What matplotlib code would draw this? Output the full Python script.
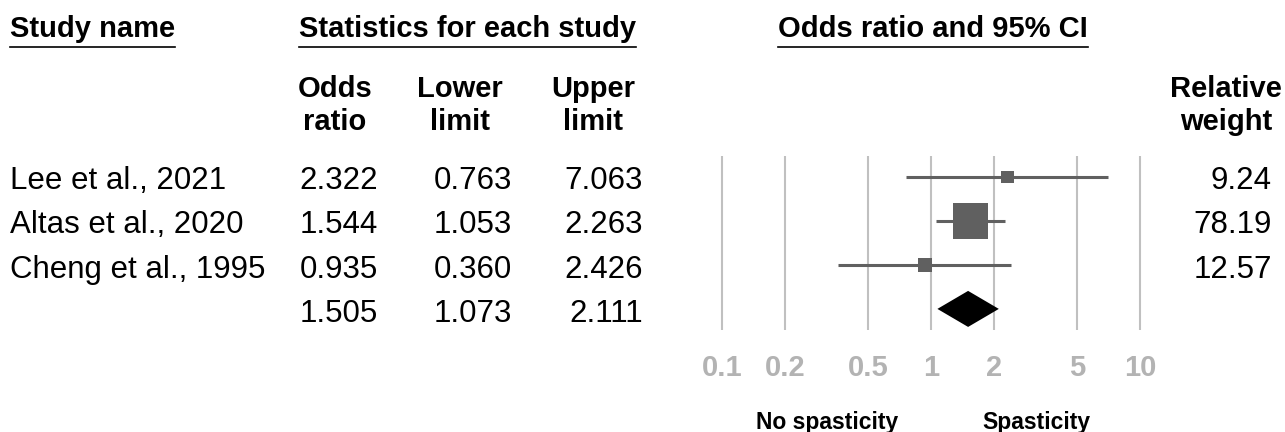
"""
Forest plot: odds ratio of spasticity
"""
import numpy as np
import matplotlib.pyplot as plt
from matplotlib.lines import Line2D

plt.rcParams['font.family'] = ['Liberation Sans', 'DejaVu Sans']

# data
studies = ['Lee et al., 2021', 'Altas et al., 2020', 'Cheng et al., 1995']
odds_ratio = [2.322, 1.544, 0.935]
lower = [0.763, 1.053, 0.360]
upper = [7.063, 2.263, 2.426]
weights = [9.24, 78.19, 12.57]

summary_or = 1.505
summary_lo = 1.073
summary_hi = 2.111

ticks = [0.1, 0.2, 0.5, 1, 2, 5, 10]
tick_labels = ['0.1', '0.2', '0.5', '1', '2', '5', '10']

W, H = 1285, 432
fig = plt.figure(figsize=(W / 100, H / 100), dpi=100)


def fx(x):
    return x / W


def fy(y):
    return 1 - y / H


BOX = '#606060'
GRID = '#c0c0c0'
TICK = '#b3b3b3'

# forest panel (pixel layout: x=1 at 931, 209 px per decade)
ax = fig.add_axes([fx(700), fy(330), 460 / W, 174 / H])
ax.set_xscale('log')
ax.set_xlim(10 ** ((700 - 931) / 209), 10 ** ((1160 - 931) / 209))
ax.set_ylim(3.48, -0.48)

for t in ticks:
    ax.axvline(t, color=GRID, lw=1.5, zorder=0)

rows = np.arange(len(studies))
ax.hlines(rows, lower, upper, color=BOX, lw=2.2, zorder=2)
ax.scatter(odds_ratio, rows, marker='s', s=8.3 * np.array(weights),
           color=BOX, linewidths=0, zorder=3)

# summary diamond
ys = len(studies)
ax.fill([summary_lo, summary_or, summary_hi, summary_or],
        [ys, ys - 0.41, ys, ys + 0.41], color='black', lw=0, zorder=3)

ax.set_xticks(ticks)
ax.set_xticklabels(tick_labels)
ax.minorticks_off()
ax.tick_params(axis='x', length=0, pad=17, labelsize=21, labelcolor=TICK)
for lbl in ax.get_xticklabels():
    lbl.set_fontweight('bold')
ax.set_yticks([])
for s in ax.spines.values():
    s.set_visible(False)
ax.patch.set_alpha(0)

# headers
titles = [
    fig.text(fx(10), fy(37), 'Study name', fontsize=21, fontweight='bold', va='baseline'),
    fig.text(fx(299), fy(37), 'Statistics for each study', fontsize=21, fontweight='bold', va='baseline'),
    fig.text(fx(778), fy(37), 'Odds ratio and 95% CI', fontsize=21, fontweight='bold', va='baseline'),
]

col_heads = [(335, 'Odds', 'ratio'), (460, 'Lower', 'limit'),
             (593, 'Upper', 'limit'), (1226, 'Relative', 'weight')]
for x, l1, l2 in col_heads:
    fig.text(fx(x), fy(97), l1, fontsize=21, fontweight='bold', ha='center', va='baseline')
    fig.text(fx(x), fy(130), l2, fontsize=21, fontweight='bold', ha='center', va='baseline')

# table rows
for i, name in enumerate(studies):
    yb = 189 + 44.3 * i
    fig.text(fx(10), fy(yb), name, fontsize=22.5, va='baseline')
    fig.text(fx(378), fy(yb), f'{odds_ratio[i]:.3f}', fontsize=22.5, ha='right', va='baseline')
    fig.text(fx(512), fy(yb), f'{lower[i]:.3f}', fontsize=22.5, ha='right', va='baseline')
    fig.text(fx(643), fy(yb), f'{upper[i]:.3f}', fontsize=22.5, ha='right', va='baseline')
    fig.text(fx(1272), fy(yb), f'{weights[i]:.2f}', fontsize=22.5, ha='right', va='baseline')

yb = 189 + 44.3 * len(studies)
fig.text(fx(378), fy(yb), f'{summary_or:.3f}', fontsize=22.5, ha='right', va='baseline')
fig.text(fx(512), fy(yb), f'{summary_lo:.3f}', fontsize=22.5, ha='right', va='baseline')
fig.text(fx(643), fy(yb), f'{summary_hi:.3f}', fontsize=22.5, ha='right', va='baseline')

# favours labels
fig.text(fx(827), fy(429), 'No spasticity', fontsize=16.5, fontweight='bold', ha='center', va='baseline')
fig.text(fx(1036), fy(429), 'Spasticity', fontsize=16.5, fontweight='bold', ha='center', va='baseline')

# underline the section titles
fig.canvas.draw()
renderer = fig.canvas.get_renderer()
for t in titles:
    bb = t.get_window_extent(renderer)
    fig.add_artist(Line2D([bb.x0 / W, bb.x1 / W], [fy(47), fy(47)],
                          transform=fig.transFigure, color='black', lw=1.2))

fig.savefig('out.png', dpi=100)
